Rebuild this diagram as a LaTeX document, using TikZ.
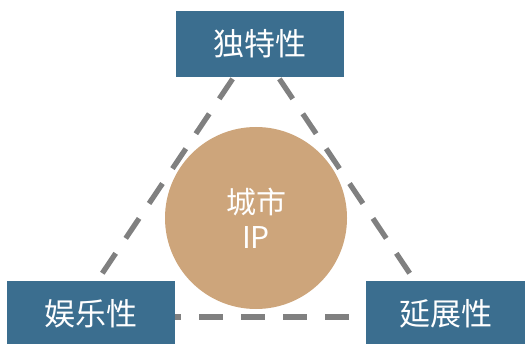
\documentclass[tikz,border=0pt]{standalone}
\usepackage{fontspec}
\setmainfont{Noto Sans CJK SC}
\definecolor{boxblue}{HTML}{3B6E8F}
\definecolor{tan}{HTML}{CDA57B}
\definecolor{dashgray}{HTML}{808080}
\begin{document}
\begin{tikzpicture}[x=1pt,y=-1pt,
  label box/.style={fill=boxblue, draw=none, minimum width=168pt, minimum height=66pt,
    inner sep=0pt, text=white, font=\fontsize{31}{35}\selectfont},
  core/.style={circle, fill=tan, draw=none, minimum size=182pt, inner sep=0pt,
    text=white, align=center, font=\fontsize{30}{35}\selectfont},
  tri/.style={draw=dashgray, line width=5.3pt, dash pattern=on 24pt off 18pt}]
\useasboundingbox (0,0) rectangle (529,344);
\coordinate (A) at (256,44);
\coordinate (B) at (73,317);
\coordinate (C) at (439,317);
\draw[tri] (A) -- (B);
\draw[tri] (A) -- (C);
\draw[tri] (B) -- (C);
\node[core] (ip) at (256,218) {城市\\IP};
\node[label box] (top) at (260,44) {独特性};
\node[label box] (left) at (91,314) {娱乐性};
\node[label box, minimum width=159pt] (right) at (445.5,314) {延展性};
\end{tikzpicture}
\end{document}
